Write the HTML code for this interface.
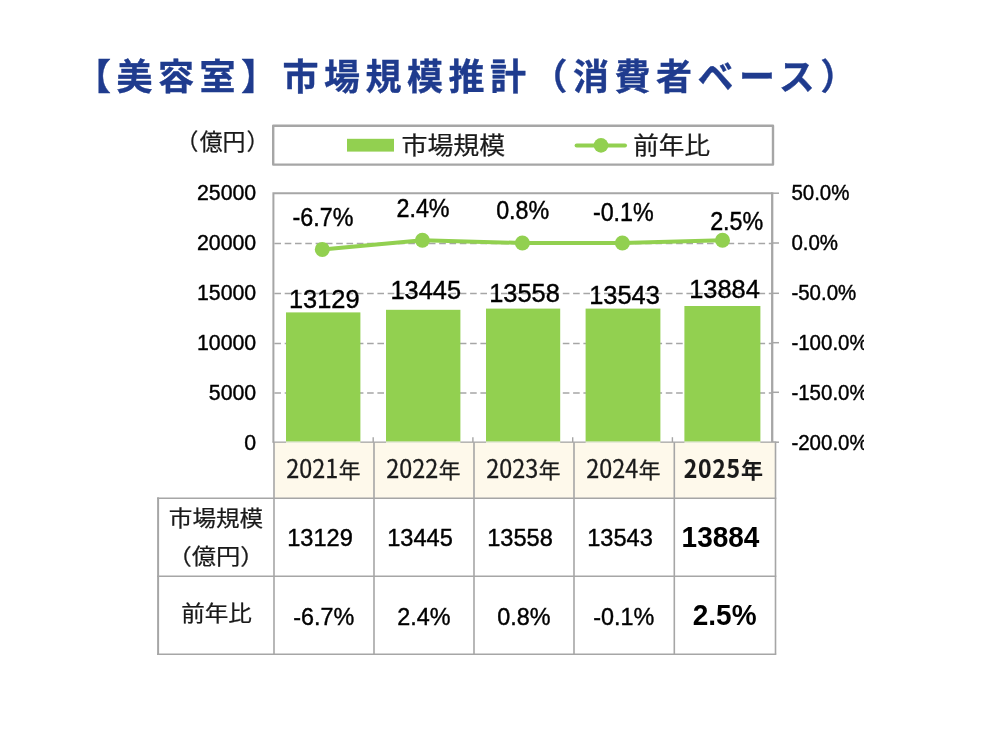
<!DOCTYPE html>
<html lang="ja">
<head>
<meta charset="utf-8">
<title>【美容室】市場規模推計（消費者ベース）</title>
<style>
html,body{margin:0;padding:0;background:#fff;}
body{width:1000px;height:750px;position:relative;overflow:hidden;font-family:"Liberation Sans","Noto Sans CJK JP",sans-serif;color:#000;}
h1{position:absolute;left:75px;top:45.8px;margin:0;font-family:"Noto Sans CJK JP","Liberation Sans",sans-serif;font-weight:700;font-size:36px;line-height:56px;letter-spacing:5.5px;color:#1f3b8e;-webkit-text-stroke:0.35px #1f3b8e;white-space:nowrap;}
svg.chart{position:absolute;left:0;top:0;}
svg .jp{font-family:"Noto Sans CJK JP","Liberation Sans",sans-serif;fill:#1a1a1a;stroke:#1a1a1a;stroke-width:0.25px;}
svg .en{font-family:"Liberation Sans","Noto Sans CJK JP",sans-serif;fill:#000;stroke:#000;stroke-width:0.4px;}
table{position:absolute;left:158px;top:442px;border-collapse:collapse;table-layout:fixed;width:617px;}
td,th{padding:0;text-align:center;vertical-align:middle;font-weight:400;white-space:nowrap;}
td span,th span{display:inline-block;position:relative;}
tr.years th{height:56px;font-family:"Noto Sans CJK JP","Liberation Sans",sans-serif;font-size:23px;color:#1a1a1a;-webkit-text-stroke:0.3px #1a1a1a;}
.yr{left:-0.5px;top:-1.6px;}
.yr .d{font-size:23.4px;transform:scale(1,1.07);transform-origin:50% 75%;}
.yr .k{font-size:21.8px;margin-left:0.6px;}
th.b .yr{left:-1.1px;-webkit-text-stroke:0.1px #1a1a1a;}
th.b .yr .d{font-size:23px;letter-spacing:0.7px;transform:scale(1,1.1);}
th.b .yr .k{font-size:22px;margin-left:0.3px;top:-0.6px;}
th.rowh{font-family:"Noto Sans CJK JP","Liberation Sans",sans-serif;font-size:23px;line-height:37px;color:#1a1a1a;-webkit-text-stroke:0.25px #1a1a1a;}
th.rowh span{transform:scale(1.025,0.95);}
tr.r1 th.rowh span{top:-1.6px;left:0.3px;}
tr.r1 th.rowh span.l2{top:2.6px;left:0;transform:scale(1.03,1);}
tr.r2 th.rowh span{top:-3.2px;}
td{font-size:23.6px;-webkit-text-stroke:0.4px #000;}
tr.r1 td span{left:-4px;top:1px;}
tr.r2 td span{left:0.2px;top:2.5px;transform:scale(0.99,1.04);}
tr.r1 td,tr.r1 th{height:78px;}
tr.r2 td,tr.r2 th{height:78px;}
.b{font-weight:700;}
td.b{font-size:28px;-webkit-text-stroke:0;}
tr.r1 td.b span{left:-4px;top:1.1px;transform:scale(1,1.04);}
tr.r2 td.b span{left:0.2px;top:1.2px;transform:scale(1,1.05);}
</style>
</head>
<body>
<h1>【美容室】市場規模推計（消費者ベース）</h1>
<svg class="chart" width="1000" height="750" viewBox="0 0 1000 750" role="img" aria-label="美容室 市場規模推計">
<g class="legend">
<rect x="273.2" y="125.7" width="499.8" height="38.9" fill="#fff" stroke="#a6a6a6" stroke-width="2.4" stroke-linejoin="round"/>
<rect x="347" y="138.8" width="47" height="12.8" fill="#92d050"/>
<text transform="translate(401.4 154.2) scale(1 0.93)" class="jp" font-size="26">市場規模</text>
<line x1="576.6" y1="145.4" x2="625" y2="145.4" stroke="#92d050" stroke-width="4" stroke-linecap="round"/>
<circle cx="601" cy="145.4" r="7.3" fill="#92d050"/>
<text transform="translate(633.2 154.2) scale(0.985 0.93)" class="jp" font-size="26">前年比</text>
</g>
<text y="150.2" class="jp" font-size="22.9"><tspan x="175.6">（</tspan><tspan x="199.7">億円</tspan><tspan x="246.6">）</tspan></text>
<g class="plot">
<line x1="274.4" y1="243.4" x2="772.2" y2="243.4" stroke="#a6a6a6" stroke-width="1.5" stroke-dasharray="6.6 3.7"/>
<line x1="274.4" y1="293.4" x2="772.2" y2="293.4" stroke="#a6a6a6" stroke-width="1.5" stroke-dasharray="6.6 3.7"/>
<line x1="274.4" y1="343.6" x2="772.2" y2="343.6" stroke="#a6a6a6" stroke-width="1.5" stroke-dasharray="6.6 3.7"/>
<line x1="274.4" y1="393.0" x2="772.2" y2="393.0" stroke="#a6a6a6" stroke-width="1.5" stroke-dasharray="6.6 3.7"/>
<path d="M273.4 442.2 V193.3 H772.2" fill="none" stroke="#a6a6a6" stroke-width="2"/>
<line x1="772.2" y1="192.3" x2="772.2" y2="442.2" stroke="#a6a6a6" stroke-width="2.3"/>
<line x1="272.5" y1="442.2" x2="776.3" y2="442.2" stroke="#a6a6a6" stroke-width="1.6"/>
<rect x="286" y="312.4" width="74.4" height="129.2" fill="#92d050"/>
<rect x="286" y="441.6" width="74.4" height="1.2" fill="#eef5dc"/>
<rect x="386" y="309.8" width="74.4" height="131.8" fill="#92d050"/>
<rect x="386" y="441.6" width="74.4" height="1.2" fill="#eef5dc"/>
<rect x="486" y="308.6" width="74.2" height="133.0" fill="#92d050"/>
<rect x="486" y="441.6" width="74.2" height="1.2" fill="#eef5dc"/>
<rect x="585.6" y="308.6" width="74.8" height="133.0" fill="#92d050"/>
<rect x="585.6" y="441.6" width="74.8" height="1.2" fill="#eef5dc"/>
<rect x="684.4" y="306" width="76.0" height="135.6" fill="#92d050"/>
<rect x="684.4" y="441.6" width="76.0" height="1.2" fill="#eef5dc"/>
<line x1="772.2" y1="193.2" x2="779.0" y2="193.2" stroke="#a6a6a6" stroke-width="1.5"/>
<line x1="772.2" y1="243.0" x2="779.0" y2="243.0" stroke="#a6a6a6" stroke-width="1.5"/>
<line x1="772.2" y1="293.3" x2="779.0" y2="293.3" stroke="#a6a6a6" stroke-width="1.5"/>
<line x1="772.2" y1="342.7" x2="779.0" y2="342.7" stroke="#a6a6a6" stroke-width="1.5"/>
<line x1="772.2" y1="392.3" x2="779.0" y2="392.3" stroke="#a6a6a6" stroke-width="1.5"/>
<line x1="772.2" y1="442.2" x2="779.0" y2="442.2" stroke="#a6a6a6" stroke-width="1.5"/>
<line x1="373.2" y1="437.2" x2="373.2" y2="442.2" stroke="#a6a6a6" stroke-width="1.4"/>
<line x1="472.9" y1="437.2" x2="472.9" y2="442.2" stroke="#a6a6a6" stroke-width="1.4"/>
<line x1="572.7" y1="437.2" x2="572.7" y2="442.2" stroke="#a6a6a6" stroke-width="1.4"/>
<line x1="672.4" y1="437.2" x2="672.4" y2="442.2" stroke="#a6a6a6" stroke-width="1.4"/>
<polyline points="322.3,249.4 422.4,240.2 522.4,243 622.4,243 722.5,240.3" fill="none" stroke="#92d050" stroke-width="4" stroke-linejoin="round"/>
<circle cx="322.3" cy="249.4" r="7.5" fill="#92d050"/>
<circle cx="422.4" cy="240.2" r="7.5" fill="#92d050"/>
<circle cx="522.4" cy="243" r="7.5" fill="#92d050"/>
<circle cx="622.4" cy="243" r="7.5" fill="#92d050"/>
<circle cx="722.5" cy="240.3" r="7.5" fill="#92d050"/>
</g>
<g class="axis">
<text transform="translate(256.2 200.3)" class="en" font-size="21.3" text-anchor="end">25000</text>
<text transform="translate(256.2 250.2)" class="en" font-size="21.3" text-anchor="end">20000</text>
<text transform="translate(256.2 300.1)" class="en" font-size="21.3" text-anchor="end">15000</text>
<text transform="translate(256.2 350.0)" class="en" font-size="21.3" text-anchor="end">10000</text>
<text transform="translate(256.2 399.9)" class="en" font-size="21.3" text-anchor="end">5000</text>
<text transform="translate(256.2 449.8)" class="en" font-size="21.3" text-anchor="end">0</text>
<text transform="translate(791.4 200.3) scale(0.985 1.02)" class="en" font-size="20.8">50.0%</text>
<text transform="translate(791.4 250.2) scale(0.985 1.02)" class="en" font-size="20.8">0.0%</text>
<text transform="translate(791.4 300.1) scale(0.985 1.02)" class="en" font-size="20.8">-50.0%</text>
<text transform="translate(791.4 350.0) scale(0.985 1.02)" class="en" font-size="20.8">-100.0%</text>
<text transform="translate(791.4 399.9) scale(0.985 1.02)" class="en" font-size="20.8">-150.0%</text>
<text transform="translate(791.4 449.8) scale(0.985 1.02)" class="en" font-size="20.8">-200.0%</text>
</g>
<g class="labels">
<text transform="translate(324.3 307.8) scale(1 1.04)" class="en" font-size="25.4" text-anchor="middle">13129</text>
<text transform="translate(425.8 298.8) scale(1 1.04)" class="en" font-size="25.4" text-anchor="middle">13445</text>
<text transform="translate(524.5 301.5) scale(1 1.04)" class="en" font-size="25.4" text-anchor="middle">13558</text>
<text transform="translate(624.5 304.2) scale(1 1.04)" class="en" font-size="25.4" text-anchor="middle">13543</text>
<text transform="translate(724.5 297.8) scale(1 1.04)" class="en" font-size="25.4" text-anchor="middle">13884</text>
<text transform="translate(323 226.2) scale(1 1.11)" class="en" font-size="23.3" text-anchor="middle">-6.7%</text>
<text transform="translate(423 217.2) scale(1 1.11)" class="en" font-size="23.3" text-anchor="middle">2.4%</text>
<text transform="translate(522.7 219.2) scale(1 1.11)" class="en" font-size="23.3" text-anchor="middle">0.8%</text>
<text transform="translate(623.3 220.8) scale(1 1.11)" class="en" font-size="23.3" text-anchor="middle">-0.1%</text>
<text transform="translate(736.7 230.2) scale(1 1.11)" class="en" font-size="23.3" text-anchor="middle">2.5%</text>
</g>
<g class="grid">
<rect x="274" y="442.8" width="501.4" height="55.4" fill="#fef9eb"/>
<line x1="274" y1="442.2" x2="274" y2="654.2" stroke="#a6a6a6" stroke-width="1.6"/>
<line x1="374" y1="442.2" x2="374" y2="654.2" stroke="#a6a6a6" stroke-width="1.6"/>
<line x1="474" y1="442.2" x2="474" y2="654.2" stroke="#a6a6a6" stroke-width="1.6"/>
<line x1="574" y1="442.2" x2="574" y2="654.2" stroke="#a6a6a6" stroke-width="1.6"/>
<line x1="674.3" y1="442.2" x2="674.3" y2="654.2" stroke="#a6a6a6" stroke-width="1.6"/>
<line x1="775.5" y1="442.2" x2="775.5" y2="654.2" stroke="#a6a6a6" stroke-width="1.6"/>
<line x1="158.1" y1="497.4" x2="158.1" y2="655" stroke="#a6a6a6" stroke-width="2"/>
<line x1="157.1" y1="498.2" x2="776.3" y2="498.2" stroke="#a6a6a6" stroke-width="1.6"/>
<line x1="157.1" y1="576.3" x2="776.3" y2="576.3" stroke="#a6a6a6" stroke-width="1.6"/>
<line x1="157.1" y1="654.2" x2="776.3" y2="654.2" stroke="#a6a6a6" stroke-width="1.6"/>
</g>
<rect x="864" y="170" width="138" height="290" fill="#fff"/>
</svg>
<table>
<colgroup><col style="width:116px"><col style="width:100px"><col style="width:100px"><col style="width:100px"><col style="width:100px"><col style="width:101px"></colgroup>
<tr class="years"><th></th><th><span class="yr"><span class="d">2021</span><span class="k">年</span></span></th><th><span class="yr"><span class="d">2022</span><span class="k">年</span></span></th><th><span class="yr"><span class="d">2023</span><span class="k">年</span></span></th><th><span class="yr"><span class="d">2024</span><span class="k">年</span></span></th><th class="b"><span class="yr"><span class="d">2025</span><span class="k">年</span></span></th></tr>
<tr class="r1"><th class="rowh"><span>市場規模<br><span class="l2">（億円）</span></span></th><td><span>13129</span></td><td><span>13445</span></td><td><span>13558</span></td><td><span>13543</span></td><td class="b"><span>13884</span></td></tr>
<tr class="r2"><th class="rowh"><span>前年比</span></th><td><span>-6.7%</span></td><td><span>2.4%</span></td><td><span>0.8%</span></td><td><span>-0.1%</span></td><td class="b"><span>2.5%</span></td></tr>
</table>
</body>
</html>
